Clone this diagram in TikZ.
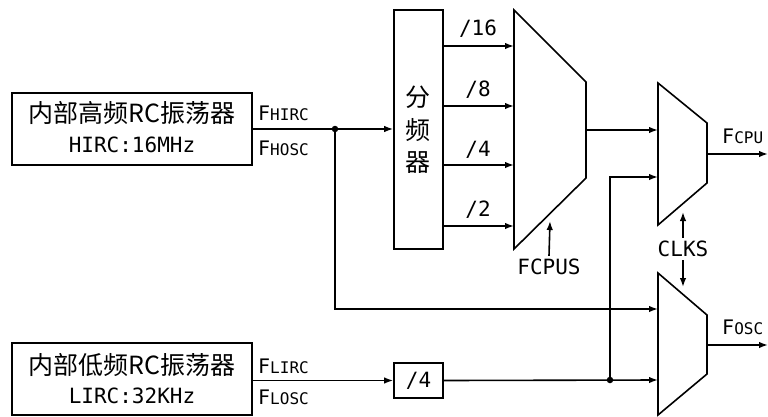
\documentclass[tikz,border=0pt]{standalone}
\usepackage{fontspec}
\setmainfont{Noto Sans CJK SC}
\newfontfamily\cjkfont{Noto Sans CJK SC}
\newfontfamily\monofont{DejaVu Sans Mono}
\usetikzlibrary{arrows.meta}
\newcommand\flab[2]{{\fontsize{20}{21}\selectfont #1}{\fontsize{16}{17}\selectfont #2}}
\tikzset{
  wire/.style={line width=1.6pt},
  arr/.style={wire,-{Latex[length=9pt,width=6.5pt]}},
  blk/.style={draw,line width=1.6pt,inner sep=0pt},
  jdot/.style={circle,fill,inner sep=0pt,minimum size=6.5pt},
  cn/.style={font=\cjkfont\fontsize{25}{28}\selectfont,inner sep=0pt},
  lt/.style={font=\monofont\fontsize{21}{24}\selectfont,inner sep=0pt},
  fl/.style={font=\monofont,inner sep=0pt,anchor=west},
}
\begin{document}
\begin{tikzpicture}[x=1pt,y=-1pt]
\useasboundingbox (0,0) rectangle (768,416);
% oscillator boxes
\node[blk,minimum width=240pt,minimum height=72pt] (hirc) at (132,129) {};
\node[cn] (hircA) at (132,113) {内部高频RC振荡器};
\node[lt] (hircB) at (132,145) {HIRC:16MHz};
\node[blk,minimum width=240pt,minimum height=72pt] (lirc) at (132,379) {};
\node[cn] (lircA) at (132,365) {内部低频RC振荡器};
\node[lt] (lircB) at (132,396) {LIRC:32KHz};
% F labels
\node[fl] (fhirc) at (258,113) {\flab{F}{HIRC}};
\node[fl] (fhosc) at (258,148) {\flab{F}{HOSC}};
\node[fl] (flirc) at (258,366) {\flab{F}{LIRC}};
\node[fl] (flosc) at (258,397) {\flab{F}{LOSC}};
% divider
\node[blk,minimum width=49pt,minimum height=239pt] (div) at (418.5,129.5) {};
\node[cn] (d1) at (418,97) {分};
\node[cn] (d2) at (418,130) {频};
\node[cn] (d3) at (418,163) {器};
% /4 box
\node[blk,minimum width=49pt,minimum height=35pt,lt] (q4) at (418.5,380.5) {/4};
% big mux
\draw[wire,line join=miter] (514,10) -- (586,82) -- (586,178) -- (514,249) -- cycle;
\coordinate (m1i1) at (514,46);
\coordinate (m1i2) at (514,106);
\coordinate (m1i3) at (514,165);
\coordinate (m1i4) at (514,226);
\coordinate (m1o) at (586,130);
\coordinate (m1s) at (550,221);
% cpu mux
\draw[wire,line join=miter] (658,83) -- (707,123) -- (707,183) -- (658,225) -- cycle;
\coordinate (m2i1) at (658,130);
\coordinate (m2i2) at (658,177);
\coordinate (m2o) at (707,154);
\coordinate (m2s) at (683,212);
% osc mux
\draw[wire,line join=miter] (658,273) -- (707,315) -- (707,374) -- (658,415) -- cycle;
\coordinate (m3i1) at (658,309);
\coordinate (m3i2) at (658,380);
\coordinate (m3o) at (707,345);
\coordinate (m3s) at (683,287);
% outputs
\coordinate (fcpuend) at (768,154);
\coordinate (foscend) at (768,345);
\node[fl] (fcpu) at (722,136) {\flab{F}{CPU}};
\node[fl] (fosc) at (722,327) {\flab{F}{OSC}};
% select signals
\node[lt] (fcpus) at (549,267) {FCPUS};
\node[lt] (clks) at (683,249) {CLKS};
\draw[arr] (fcpus.north) ++(0,-3) -- (m1s);
\draw[arr] (clks.north) ++(0,-3) -- (m2s);
\draw[arr] (clks.south) ++(0,3) -- (m3s);
% junctions
\node[jdot] (jh) at (335,129) {};
\node[jdot] (j4) at (610,380) {};
% wires
\draw[wire] (hirc.east) -- (jh.center);
\draw[arr] (jh.center) -- (div.west |- jh);
\draw[arr] (jh.center) |- (m3i1);
\draw[arr] (div.east |- m1i1) -- (m1i1);
\draw[arr] (div.east |- m1i2) -- (m1i2);
\draw[arr] (div.east |- m1i3) -- (m1i3);
\draw[arr] (div.east |- m1i4) -- (m1i4);
\node[lt] (l16) at (478,29) {/16};
\node[lt] (l8) at (478,90) {/8};
\node[lt] (l4) at (478,150) {/4};
\node[lt] (l2) at (478,210) {/2};
\draw[arr] (m1o) -- (m2i1);
\draw[arr] (lirc.east |- q4) -- (q4.west);
\draw[arr] (q4.east) -- (m3i2);
\draw[arr] (j4.center) |- (m2i2);
\draw[arr] (m2o) -- (fcpuend);
\draw[arr] (m3o) -- (foscend);
\end{tikzpicture}
\end{document}
